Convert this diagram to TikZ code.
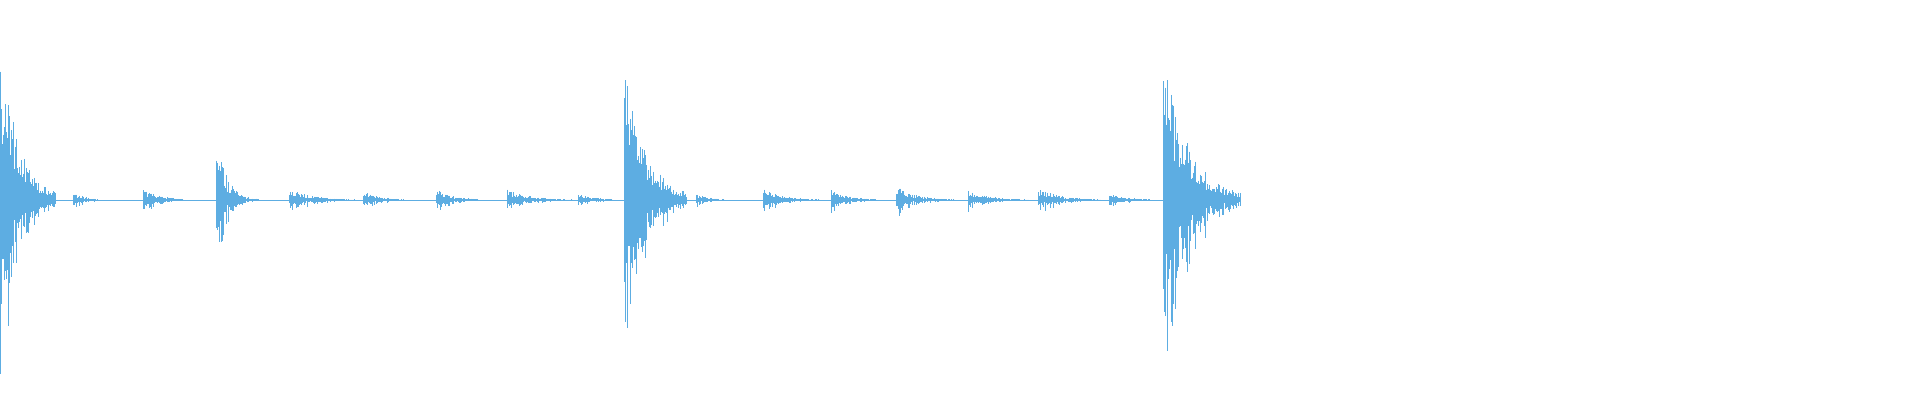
\documentclass[tikz,border=0pt]{standalone}
\definecolor{wave}{RGB}{93,173,226}
\tikzset{wv/.style={draw=wave,line width=0.7pt}}
\newcommand{\myburst}[4]{% x0, len, amp, decay divisor
  \foreach \i in {0,1,...,#2}{
    \pgfmathsetmacro\ampa{#3*exp(-\i/(#2/#4))*(0.35+0.65*rnd)}
    \pgfmathsetmacro\ampb{\ampa*(0.6+0.8*rnd)}
    \draw[wv] ({#1+\i},{200+\ampa}) -- ({#1+\i},{200-\ampb});
  }}
\begin{document}
\begin{tikzpicture}[x=1pt,y=1pt]
\pgfmathsetseed{11}
\useasboundingbox (0,0) rectangle (1920,400);
\draw[wv,line width=0.6pt] (0,200) -- (1240,200);
\myburst{0}{55}{165}{3}
\myburst{73}{24}{8}{2}
\myburst{143}{40}{12}{2.5}
\myburst{216}{42}{66}{4}
\myburst{289}{65}{12}{3}
\myburst{363}{40}{10}{2.5}
\myburst{436}{42}{11}{2.5}
\myburst{507}{65}{11}{3}
\myburst{578}{34}{6}{2}
\myburst{624}{62}{150}{3}
\myburst{696}{28}{6}{2}
\myburst{763}{56}{12}{3}
\myburst{831}{44}{10}{2.5}
\myburst{896}{58}{14}{3}
\myburst{968}{60}{10}{3}
\myburst{1038}{62}{12}{3}
\myburst{1109}{40}{6}{2}
\myburst{1163}{77}{146}{3}
\end{tikzpicture}
\end{document}
